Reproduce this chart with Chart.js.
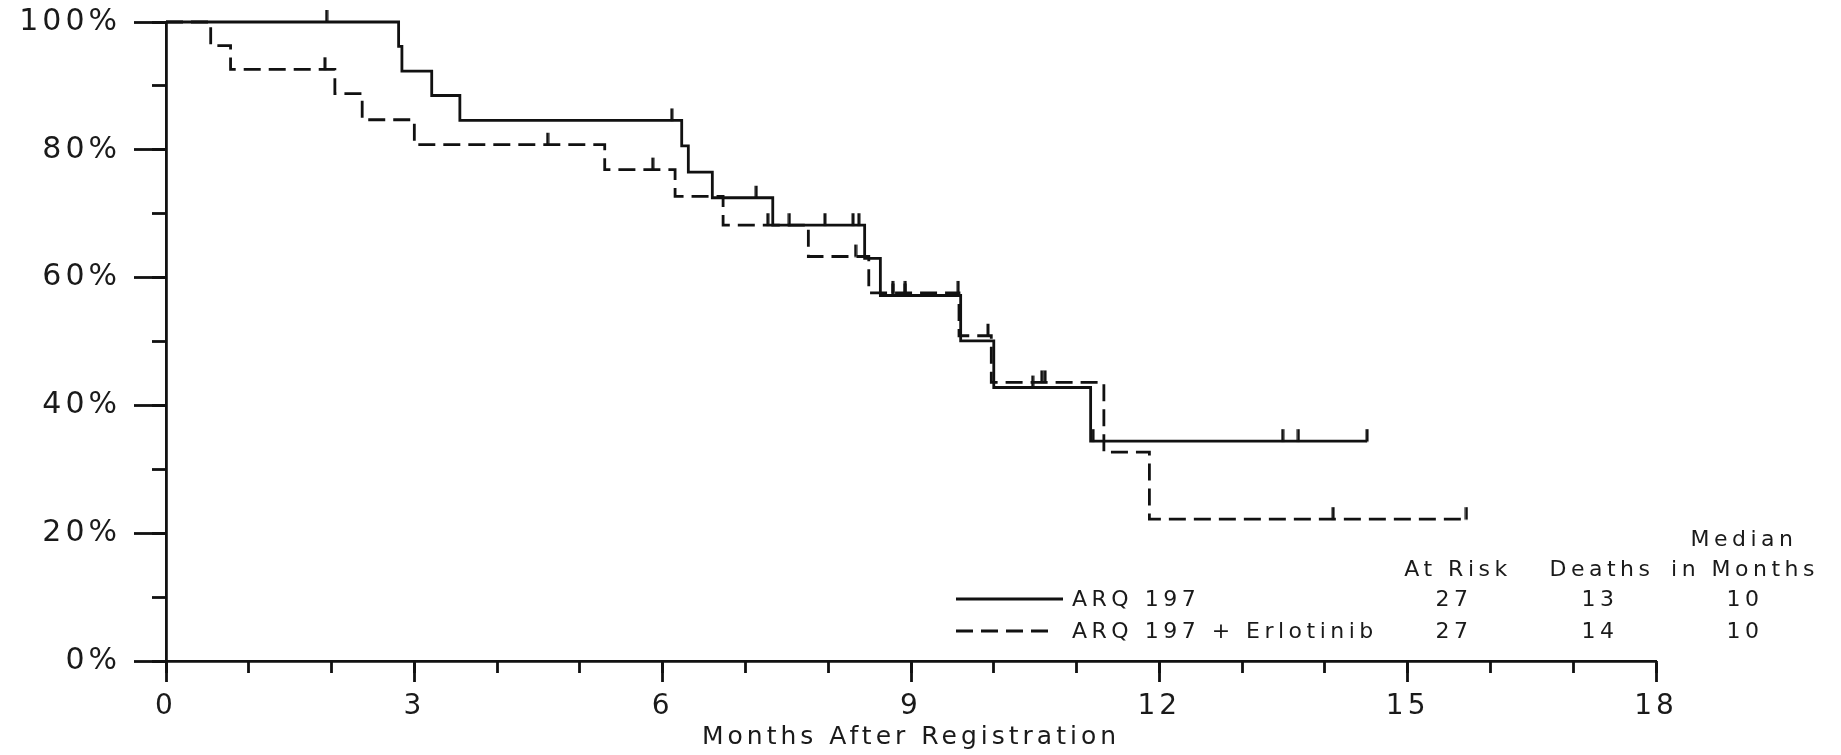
<!DOCTYPE html>
<html>
<head>
<meta charset="utf-8">
<script src="https://cdn.jsdelivr.net/npm/chart.js@4.4.1/dist/chart.umd.min.js"></script>
<style>
  html, body { margin: 0; padding: 0; background: #fff; }
  canvas { display: block; }
</style>
</head>
<body>
<canvas id="km" width="1841" height="755"></canvas>
<script>
// ARQ 197 (solid) - event times in months and survival in %
const arqTimes = [0, 2.81, 2.85, 3.21, 3.55, 6.23, 6.31, 6.60, 7.33, 8.44, 8.63, 9.60, 10.00, 11.17, 14.51];
const arqSurv  = [100, 96.2, 92.3, 88.5, 84.6, 80.6, 76.5, 72.5, 68.2, 63.0, 57.2, 50.1, 42.8, 34.4, 34.4];
const arqCensor = [1.94, 6.11, 7.13, 7.96, 8.30, 8.37, 8.78, 8.93, 10.47, 11.20, 13.49, 13.68, 14.51];

// ARQ 197 + Erlotinib (dashed)
const comboTimes = [0, 0.54, 0.78, 2.04, 2.37, 3.00, 5.30, 6.15, 6.73, 7.76, 8.49, 9.58, 9.97, 11.33, 11.88, 15.71];
const comboSurv  = [100, 96.3, 92.6, 88.8, 84.7, 80.8, 76.9, 72.7, 68.2, 63.3, 57.6, 50.9, 43.6, 32.7, 22.2, 22.2];
const comboCensor = [1.92, 4.61, 5.88, 7.27, 7.53, 8.33, 8.78, 8.93, 9.57, 9.93, 10.58, 10.62, 14.10, 15.71];

// summary table
const legendLabels = ['ARQ 197', 'ARQ 197 + Erlotinib'];
const atRisk = [27, 27];
const deaths = [13, 14];
const medians = [10, 10];

const xMajorStep = 3;
const yMajorStep = 20;

const INK = '#111';
const TEXT = '#1a1a1a';

// survival value of a step curve at time t
function stepAt(times, surv, t) {
    let v = surv[0];
    for (let i = 0; i < times.length; i++) {
        if (times[i] <= t) v = surv[i];
    }
    return v;
}

// censor glyph: short vertical stroke going up from the point
function makeCensorMark() {
    const c = document.createElement('canvas');
    c.width = 4;
    c.height = 26;
    const g = c.getContext('2d');
    g.fillStyle = INK;
    g.fillRect(0.5, 1, 3, 12.5);
    return c;
}
const censorMark = makeCensorMark();

const tablePlugin = {
    id: 'kmTable',
    beforeDraw: (chart) => {
        chart.ctx.letterSpacing = '4px';
    },
    afterDraw: (chart) => {
        const ctx = chart.ctx;
        ctx.save();
        ctx.letterSpacing = '4.5px';
        ctx.font = '22px "DejaVu Sans"';
        ctx.fillStyle = TEXT;
        ctx.textBaseline = 'middle';

        // headers
        ctx.textAlign = 'center';
        ctx.fillText('Median', 1744, 540);
        ctx.fillText('At Risk', 1458, 570);
        ctx.fillText('Deaths', 1602, 570);
        ctx.fillText('in Months', 1745, 570);

        const rowsY = [600, 632];
        rowsY.forEach((y, i) => {
            ctx.textAlign = 'center';
            ctx.fillText(String(atRisk[i]), 1454, y);
            ctx.fillText(String(deaths[i]), 1600, y);
            ctx.fillText(String(medians[i]), 1745, y);
            ctx.textAlign = 'left';
            ctx.fillText(legendLabels[i], 1072, y);
        });

        // legend line samples
        ctx.strokeStyle = INK;
        ctx.lineWidth = 2.8;
        ctx.beginPath();
        ctx.moveTo(956, 599);
        ctx.lineTo(1063, 599);
        ctx.stroke();
        ctx.setLineDash([17, 8]);
        ctx.beginPath();
        ctx.moveTo(956, 631);
        ctx.lineTo(1056, 631);
        ctx.stroke();
        ctx.restore();
        ctx.letterSpacing = '0px';
    }
};

const ctx = document.getElementById('km').getContext('2d');

new Chart(ctx, {
    type: 'line',
    data: {
        datasets: [
            {
                label: legendLabels[0],
                data: arqTimes.map((t, i) => ({ x: t, y: arqSurv[i] })),
                stepped: 'before',
                borderColor: INK,
                borderWidth: 2.8,
                pointRadius: 0,
                fill: false,
                clip: false
            },
            {
                label: legendLabels[1],
                data: comboTimes.map((t, i) => ({ x: t, y: comboSurv[i] })),
                stepped: 'before',
                borderColor: INK,
                borderWidth: 2.8,
                borderDash: [17, 8],
                pointRadius: 0,
                fill: false,
                clip: false
            },
            {
                type: 'scatter',
                label: 'censored ARQ 197',
                data: arqCensor.map(t => ({ x: t, y: stepAt(arqTimes, arqSurv, t) })),
                pointStyle: censorMark,
                pointRadius: 6,
                showLine: false,
                clip: false
            },
            {
                type: 'scatter',
                label: 'censored combo',
                data: comboCensor.map(t => ({ x: t, y: stepAt(comboTimes, comboSurv, t) })),
                pointStyle: censorMark,
                pointRadius: 6,
                showLine: false,
                clip: false
            }
        ]
    },
    options: {
        responsive: false,
        animation: false,
        layout: { padding: { left: 0, top: 22, right: 185, bottom: 0 } },
        plugins: {
            legend: { display: false },
            tooltip: { enabled: false }
        },
        scales: {
            x: {
                type: 'linear',
                position: 'bottom',
                weight: 1,
                min: 0,
                max: 18,
                afterFit: (s) => { s.height = 94; },
                border: { display: true, color: INK, width: 2.8 },
                grid: { drawOnChartArea: false, tickLength: 21, tickWidth: 2.8, tickColor: INK },
                ticks: {
                    stepSize: xMajorStep,
                    padding: 8,
                    color: TEXT,
                    font: { family: '"DejaVu Sans"', size: 28 },
                    maxRotation: 0
                },
                title: {
                    display: true,
                    text: 'Months After Registration',
                    color: TEXT,
                    font: { family: '"DejaVu Sans"', size: 25 },
                    padding: { top: 0, bottom: 3 }
                }
            },
            xMinor: {
                type: 'linear',
                position: 'bottom',
                weight: 0,
                min: 0,
                max: 18,
                afterFit: (s) => { s.height = 0; },
                border: { display: false },
                grid: { drawOnChartArea: false, tickLength: 12, tickWidth: 2.8, tickColor: INK },
                ticks: { display: false, stepSize: 1, maxTicksLimit: 100 }
            },
            y: {
                type: 'linear',
                position: 'left',
                weight: 1,
                min: 0,
                max: 100,
                afterFit: (s) => { s.width = 166; },
                border: { display: true, color: INK, width: 2.8 },
                grid: { drawOnChartArea: false, tickLength: 32, tickWidth: 2.8, tickColor: INK },
                ticks: {
                    stepSize: yMajorStep,
                    padding: 13,
                    color: TEXT,
                    font: { family: '"DejaVu Sans"', size: 30, lineHeight: 0.5 },
                    callback: (v) => v + '%'
                }
            },
            yMinor: {
                type: 'linear',
                position: 'left',
                weight: 0,
                min: 0,
                max: 100,
                afterFit: (s) => { s.width = 0; },
                border: { display: false },
                grid: { drawOnChartArea: false, tickLength: 14, tickWidth: 2.8, tickColor: INK },
                ticks: { display: false, stepSize: 10, maxTicksLimit: 100 }
            }
        }
    },
    plugins: [tablePlugin]
});
</script>
</body>
</html>
